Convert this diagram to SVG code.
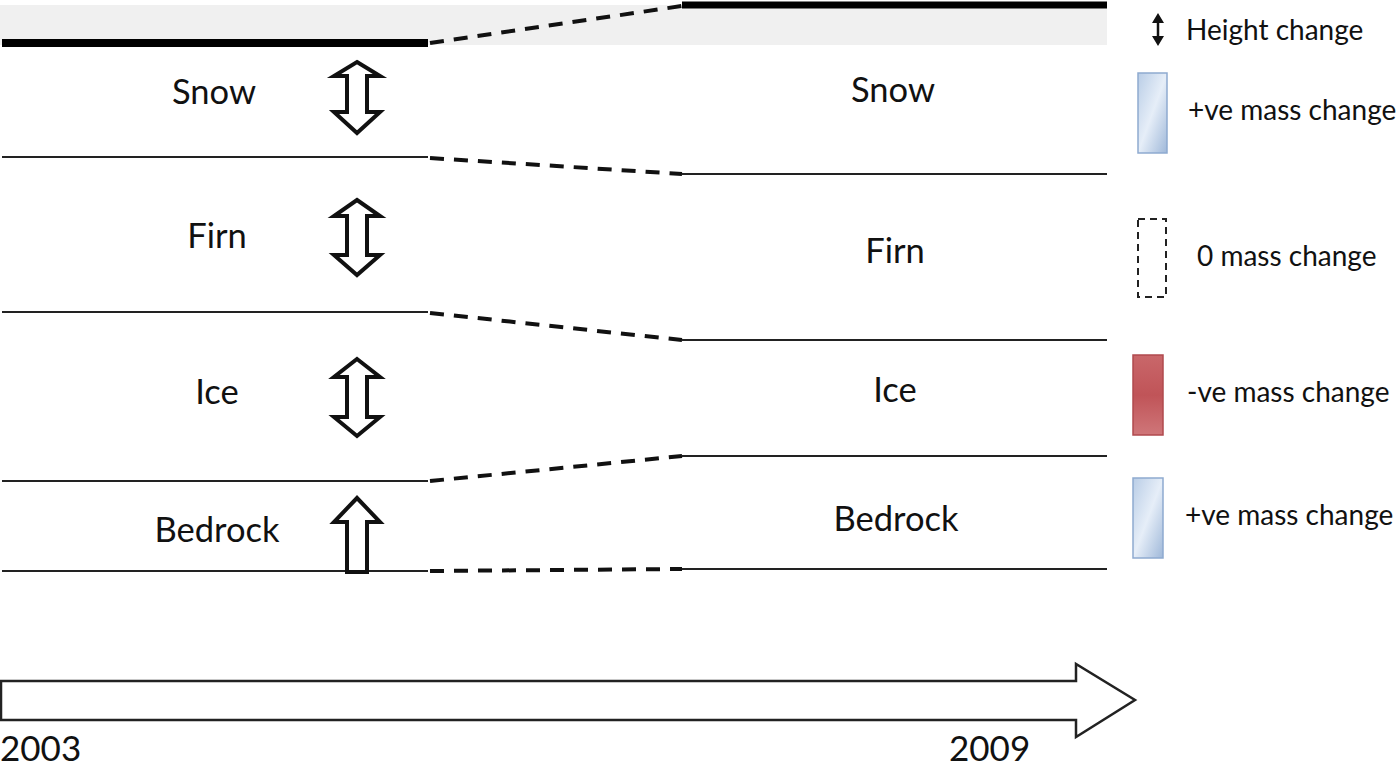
<svg xmlns="http://www.w3.org/2000/svg" width="1400" height="768" viewBox="0 0 1400 768">
<defs>
<style>
.t{font-family:Lato,"Open Sans",sans-serif;fill:#111}
.lbl{font-size:34.5px;text-anchor:middle}
.lg{font-size:28px}
.yr{font-size:35px}
.ln{stroke:#222;stroke-width:2;fill:none}
.dash{stroke:#111;stroke-width:4;stroke-dasharray:14,10;fill:none}
.arr{fill:#fff;stroke:#111;stroke-width:4;stroke-linejoin:miter}
</style>
<linearGradient id="blue" x1="0" y1="0" x2="1" y2="1">
<stop offset="0" stop-color="#b9cde6"/><stop offset="0.5" stop-color="#e6eef8"/><stop offset="1" stop-color="#9fb8d9"/>
</linearGradient>
<linearGradient id="red" x1="0" y1="0" x2="0" y2="1">
<stop offset="0" stop-color="#c9676a"/><stop offset="0.5" stop-color="#c05458"/><stop offset="1" stop-color="#cf7679"/>
</linearGradient>
</defs>
<rect width="1400" height="768" fill="#fff"/>
<rect x="0" y="5" width="1107" height="40" fill="#f0f0f0"/>

<g id="connectors">
<line x1="2" y1="43" x2="428" y2="43" stroke="#000" stroke-width="8"/>
<line x1="682" y1="5" x2="1107" y2="5" stroke="#000" stroke-width="7"/>
<line class="dash" x1="430" y1="43" x2="682" y2="6"/>
<line class="ln" x1="2" y1="157" x2="428" y2="157"/>
<line class="dash" x1="430" y1="158" x2="682" y2="174"/>
<line class="ln" x1="682" y1="174" x2="1107" y2="174"/>
<line class="ln" x1="2" y1="312" x2="428" y2="312"/>
<line class="dash" x1="430" y1="313" x2="682" y2="340"/>
<line class="ln" x1="682" y1="340" x2="1107" y2="340"/>
<line class="ln" x1="2" y1="481" x2="428" y2="481"/>
<line class="dash" x1="430" y1="481" x2="682" y2="456"/>
<line class="ln" x1="682" y1="456" x2="1107" y2="456"/>
<line class="ln" x1="2" y1="571" x2="428" y2="571"/>
<line class="dash" x1="430" y1="571" x2="682" y2="569"/>
<line class="ln" x1="682" y1="569" x2="1107" y2="569"/>
</g>

<g id="snow">
<text class="t lbl" x="214" y="104">Snow</text>
<text class="t lbl" x="893" y="102">Snow</text>
<path class="arr" d="M357,62 L380,76 L367,76 L367,112 L380,112 L357,133 L334,112 L347,112 L347,76 L334,76 Z"/>
</g>
<g id="firn">
<text class="t lbl" x="217" y="248">Firn</text>
<text class="t lbl" x="895" y="263">Firn</text>
<path class="arr" d="M357,200 L380,216 L367,216 L367,255 L380,255 L357,275 L334,255 L347,255 L347,216 L334,216 Z"/>
</g>
<g id="ice">
<text class="t lbl" x="217" y="404">Ice</text>
<text class="t lbl" x="895" y="402">Ice</text>
<path class="arr" d="M357,359 L380,377 L367,377 L367,417 L380,417 L357,436 L334,417 L347,417 L347,377 L334,377 Z"/>
</g>
<g id="bedrock">
<text class="t lbl" x="217" y="542">Bedrock</text>
<text class="t lbl" x="896" y="531">Bedrock</text>
<path class="arr" d="M357,498 L380,522 L367,522 L367,572 L347,572 L347,522 L334,522 Z"/>
</g>

<g id="legend">
<g id="leg-height">
<line x1="1158" y1="20" x2="1158" y2="39" stroke="#111" stroke-width="2.5"/>
<path d="M1158,13 L1164,23 L1152,23 Z M1158,46 L1164,36 L1152,36 Z" fill="#111"/>
<text class="t lg" x="1186" y="40">Height change</text>
</g>
<g id="leg-pos1">
<rect x="1138" y="73" width="29" height="80" fill="url(#blue)" stroke="#8eaad0" stroke-width="1.5"/>
<text class="t lg" x="1188" y="120">+ve mass change</text>
</g>
<g id="leg-zero">
<rect x="1138" y="219" width="28" height="78" fill="none" stroke="#222" stroke-width="2" stroke-dasharray="7,5"/>
<text class="t lg" x="1197" y="266">0 mass change</text>
</g>
<g id="leg-neg">
<rect x="1133" y="355" width="30" height="80" fill="url(#red)" stroke="#b04a4e" stroke-width="1.5"/>
<text class="t lg" x="1187" y="402">-ve mass change</text>
</g>
<g id="leg-pos2">
<rect x="1133" y="478" width="30" height="80" fill="url(#blue)" stroke="#8eaad0" stroke-width="1.5"/>
<text class="t lg" x="1185" y="525">+ve mass change</text>
</g>
</g>

<g id="timeline">
<path d="M1,681 L1076,681 L1076,664 L1135,700 L1076,737 L1076,720 L1,720 Z" fill="#fff" stroke="#222" stroke-width="2.5"/>
<text class="t yr" x="0" y="761">2003</text>
<text class="t yr" x="949" y="761">2009</text>
</g>
</svg>
